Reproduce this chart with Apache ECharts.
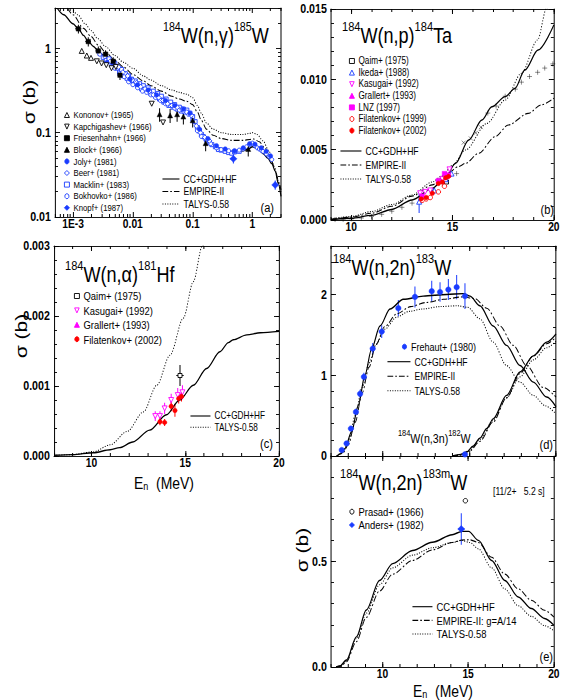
<!DOCTYPE html>
<html>
<head>
<meta charset="utf-8">
<script src="https://cdn.jsdelivr.net/npm/echarts@6/dist/echarts.min.js"></script>
<style>
  html, body { margin: 0; background: #fff; }
  #wrap { width: 562px; height: 700px; overflow: hidden; }
  /* the figure's lettering is narrow: draw on a wider canvas and squeeze it */
  #chart { width: 685px; height: 700px; transform: scaleX(0.82044); transform-origin: 0 0; }
</style>
</head>
<body>
<div id="wrap"><div id="chart"></div></div>
<script>
var F = '"Liberation Sans", Arial, sans-serif';
var BLUE = '#1a3cff', MAG = '#ff00ff', RED = '#ff0000';
var S = 562 / 685;
var X = function (px) { return px / S; };   // page pixels -> chart pixels (horizontal)

// ---------- (a) 184W(n,g)185W   [E (MeV), sigma (b)] ----------
var ngCC = [[5.5e-4,2.95],[7e-4,2.5],[1e-3,1.95],[1.23e-3,1.7],[1.5e-3,1.42],[1.8e-3,1.21],[2.2e-3,1.05],[2.65e-3,0.925],
  [3.2e-3,0.82],[3.66e-3,0.76],[4.5e-3,0.65],[5.7e-3,0.555],[7e-3,0.48],[9e-3,0.424],[0.012,0.37],[0.015,0.339],[0.02,0.30],
  [0.025,0.271],[0.032,0.24],[0.042,0.212],[0.055,0.19],[0.066,0.181],[0.078,0.176],[0.088,0.172],[0.095,0.165],[0.103,0.146],
  [0.115,0.12],[0.133,0.1],[0.15,0.088],[0.172,0.080],[0.21,0.072],[0.252,0.067],[0.32,0.062],[0.42,0.060],[0.55,0.0598],
  [0.7,0.061],[0.85,0.064],[1.0,0.068],[1.15,0.066],[1.3,0.062],[1.52,0.056],[1.8,0.05],[2.1,0.043],[2.4,0.035],[2.7,0.025],[3.0,0.0175]];
var ngEmpire = [[8e-4,3.0],[1e-3,2.5],[1.5e-3,1.72],[2e-3,1.38],[2.65e-3,1.09],[3.5e-3,0.9],[5e-3,0.72],[7e-3,0.6],[0.01,0.49],
  [0.015,0.41],[0.02,0.36],[0.03,0.31],[0.045,0.27],[0.06,0.25],[0.08,0.235],[0.1,0.215],[0.12,0.175],[0.14,0.14],[0.17,0.11],
  [0.22,0.093],[0.3,0.085],[0.45,0.081],[0.7,0.081],[0.9,0.083],[1.05,0.084],[1.3,0.078],[1.6,0.066],[2.0,0.05],[2.4,0.036],[2.8,0.025],[3.0,0.021]];
var ngTalys = [[9.5e-4,3.0],[1.2e-3,2.5],[1.6e-3,1.95],[2e-3,1.62],[2.6e-3,1.3],[3.5e-3,1.05],[5e-3,0.82],[7e-3,0.68],[0.01,0.58],
  [0.015,0.47],[0.02,0.42],[0.03,0.36],[0.045,0.32],[0.06,0.30],[0.08,0.285],[0.1,0.26],[0.12,0.21],[0.14,0.17],[0.17,0.13],
  [0.22,0.11],[0.3,0.1],[0.45,0.095],[0.7,0.095],[0.9,0.098],[1.0,0.1],[1.2,0.095],[1.5,0.08],[1.9,0.06],[2.3,0.04],[2.7,0.027],[3.0,0.02]];
var ngKononov = [[1.4e-3,0.93],[1.7e-3,0.82],[2.0e-3,0.77]];
var ngKapchigashev = [[2.5e-3,0.70],[3.0e-3,0.66],[3.6e-3,0.63],[4.4e-3,0.58],[5.2e-3,0.6],[0.0207,0.22],[0.032,0.132]];
// [E, sigma, dSigma, dE]
var ngFriesenhahn = [[1.23e-3,1.7,0.2,1.5e-4],[1.8e-3,1.2,0.15,2e-4],[2.65e-3,0.93,0.12,3e-4],[3.5e-3,0.85,0.1,4e-4],[4.7e-3,0.70,0.08,5e-4],[6.1e-3,0.48,0.06,6e-4]];
var ngBlock = [[0.028,0.165,0.03,0],[0.042,0.16,0.03,0],[0.055,0.165,0.03,0],[0.07,0.155,0.03,0],[0.1,0.14,0.025,0],[0.165,0.075,0.015,0],[0.85,0.064,0.012,0]];
var ngJoly = [[0.0037,0.68],[0.0047,0.65],[0.009,0.43],[0.012,0.37],[0.018,0.32],[0.025,0.28],[0.035,0.24],[0.05,0.21],[0.07,0.19],
  [0.09,0.17],[0.13,0.11],[0.18,0.085],[0.25,0.07],[0.35,0.064],[0.5,0.061],[0.7,0.066],[0.9,0.074],[1.1,0.073],[1.4,0.066],[1.7,0.06],[2.0,0.053]];
var ngBeer = [[0.0058,0.6],[0.0068,0.52],[0.0082,0.47],[0.0098,0.42],[0.0115,0.39],[0.0135,0.35],[0.016,0.33],[0.019,0.31],
  [0.022,0.28],[0.027,0.26],[0.032,0.24],[0.038,0.22],[0.045,0.21],[0.055,0.20],[0.067,0.19],[0.08,0.175],[0.095,0.16],
  [0.115,0.12],[0.135,0.10],[0.16,0.088],[0.19,0.08]];
var ngMacklin = [[0.0032,0.78],[0.0036,0.72],[0.004,0.75],[0.0045,0.62],[0.005,0.66],[0.0055,0.58],[0.006,0.52],[0.0065,0.56],
  [0.007,0.47],[0.0075,0.50],[0.008,0.44],[0.0085,0.47],[0.009,0.41],[0.0095,0.43],[0.0105,0.38],[0.011,0.41],[0.012,0.36],
  [0.013,0.38],[0.014,0.33],[0.015,0.36],[0.016,0.32],[0.018,0.34],[0.02,0.29],[0.022,0.31],[0.024,0.27],[0.026,0.29],
  [0.028,0.25],[0.03,0.27],[0.033,0.23],[0.036,0.25],[0.04,0.21],[0.043,0.23],[0.047,0.20],[0.05,0.215],[0.055,0.19],
  [0.06,0.20],[0.065,0.18],[0.07,0.19],[0.075,0.175],[0.08,0.185],[0.09,0.17],[0.1,0.155],[0.11,0.135],[0.12,0.115],
  [0.13,0.105],[0.14,0.095],[0.15,0.09],[0.17,0.082],[0.19,0.076],[0.21,0.072],[0.24,0.068],[0.27,0.063],[0.3,0.062],
  [0.35,0.060],[0.4,0.058],[0.45,0.057],[0.5,0.059],[0.6,0.060]];
var ngBokhovko = [[0.0028,0.85],[0.0034,0.80],[0.0042,0.70],[0.005,0.58],[0.006,0.50],[0.0072,0.46],[0.0085,0.40],[0.01,0.37],
  [0.012,0.34],[0.0145,0.31],[0.017,0.30],[0.02,0.28],[0.024,0.26],[0.029,0.24],[0.035,0.22],[0.042,0.21],[0.05,0.195],
  [0.06,0.185],[0.07,0.18],[0.085,0.165],[0.1,0.14],[0.12,0.105],[0.14,0.09],[0.16,0.085],[0.2,0.074],[0.25,0.066],[0.3,0.063],
  [0.4,0.061],[0.5,0.06],[0.6,0.062],[0.7,0.064],[0.8,0.068],[0.9,0.072],[1.0,0.075],[1.1,0.07],[1.2,0.066],[1.3,0.064],
  [1.4,0.062],[1.5,0.06],[1.7,0.056],[1.9,0.052],[2.1,0.048]];
var ngKnopf = [[0.48,0.049,0.006,0.06],[2.4,0.024,0.003,0.15]];

// ---------- (b) 184W(n,p)184Ta ----------
var npCC = [[9,0.00003],[10,0.00012],[11,0.00033],[12,0.00075],[13,0.00142],[14,0.00225],[14.66,0.00308],[15.15,0.00403],
  [15.8,0.00569],[16.45,0.00711],[16.94,0.00805],[17.6,0.00877],[18.08,0.00936],[18.57,0.01066],[19.22,0.01208],[20,0.01386]];
var npEmpire = [[9,0.00006],[10,0.0002],[11,0.00048],[12,0.00098],[13,0.0017],[14,0.0025],[14.66,0.0032],[15.3,0.0038],
  [15.64,0.00403],[16.29,0.00474],[17.1,0.00592],[17.75,0.00675],[18.73,0.00758],[19.38,0.00818],[20,0.00865]];
var npTalys = [[9,0.00008],[10,0.00025],[11,0.0006],[12,0.0011],[13,0.00178],[14,0.0027],[14.5,0.00315],[15,0.0039],
  [15.64,0.00498],[16.7,0.00687],[17.6,0.00853],[18.4,0.01043],[19.2,0.0128],[19.63,0.015],[20,0.0165]];
var npPlus = [[9.2,0.00003],[9.6,0.00005],[10,0.00008],[10.5,0.00014],[11,0.00025],[11.5,0.0004],[12,0.00062],[12.5,0.0009],
  [13,0.0012],[13.5,0.0016],[14,0.0021],[14.5,0.0026],[15.2,0.0033],[16.74,0.0076],[17.15,0.0081],[17.6,0.0088],[18.1,0.0093],
  [18.4,0.0098],[18.8,0.0102],[19.2,0.0105],[19.55,0.0108],[19.95,0.0111]];
var npCross = [[15.55,0.0055],[15.9,0.0058],[16.15,0.0062],[16.4,0.0066]];
var npQaim = [[14.7,0.0027]];
var npIkeda = [[13.35,0.0013,0.0008],[14.1,0.0021,0.0002],[14.66,0.0029,0.0002],[14.95,0.0033,0.0002]];
var npKasugai = [[13.4,0.0019],[13.65,0.0020],[13.9,0.0021],[14.3,0.0027],[14.5,0.0029],[14.85,0.0036]];
var npGrallert = [[14.7,0.0031]];
var npLNZ = [[13.5,0.0017],[14.3,0.0028],[14.6,0.0033],[14.8,0.0032]];
var npFilat99 = [[13.5,0.0014],[13.7,0.0015],[13.9,0.0016],[14.3,0.0020],[14.6,0.0024]];
var npFilat02 = [[13.45,0.0015],[13.7,0.0016],[14.0,0.0019],[14.3,0.0026],[14.5,0.0027],[14.66,0.0030],[14.8,0.0031]];

// ---------- (c) 184W(n,a)181Hf ----------
var naCC = [[8,0.00001],[9,0.00002],[10.1,0.000047],[11,0.00009],[11.5,0.00012],[12.2,0.0002],[13.1,0.00037],[14,0.00059],
  [14.7,0.0008],[15.43,0.00101],[16.14,0.00125],[16.85,0.00149],[17.3,0.00162],[17.56,0.00166],[18.28,0.00173],[19,0.00176],[20,0.00178]];
var naTalys = [[8,0.00001],[9,0.00002],[10.1,0.00006],[11,0.00016],[11.9,0.00035],[12.77,0.00063],[13.48,0.00101],
  [14.19,0.00144],[14.9,0.00197],[15.43,0.00249],[15.91,0.003],[16.3,0.0034]];
var naQaim = [[14.72,0.00115,0.00015,0.2]];
var naKasugai = [[13.4,0.00057,0.00007],[13.65,0.00057,0.00007],[13.9,0.00068,0.00008],[14.25,0.0008,0.00009],[14.6,0.00087,0.0001],[14.85,0.00091,0.0001]];
var naGrallert = [[14.75,0.00086,0.0001]];
var naFilat02 = [[13.65,0.00049,0.00005],[13.9,0.00048,0.00005],[14.25,0.00071,0.00007],[14.45,0.00065,0.00009],[14.65,0.00082,0.00007],[14.8,0.00085,0.00007]];

// ---------- (d) 184W(n,2n)183W and (n,3n) ----------
var n2nCC = [[7.33,0],[7.6,0.03],[7.81,0.095],[8.19,0.30],[8.58,0.63],[8.96,1.0],[9.35,1.33],[9.83,1.61],[10.41,1.82],[11.18,1.94],
  [12.33,1.98],[13.68,2.0],[14.64,2.01],[15.03,1.98],[15.6,1.86],[16.37,1.61],[17.14,1.37],[17.92,1.12],[18.69,0.915],[19.46,0.73],[20,0.61]];
var n2nEmpire = [[7.33,0],[7.7,0.04],[8.0,0.14],[8.4,0.42],[8.8,0.78],[9.2,1.1],[9.6,1.38],[10.1,1.6],[10.8,1.76],[11.6,1.85],
  [12.5,1.9],[13.5,1.94],[14.6,1.97],[15.3,1.95],[16.0,1.83],[16.76,1.61],[17.53,1.37],[18.3,1.12],[19.25,0.85],[20,0.73]];
var n2nTalys = [[7.33,0],[7.7,0.05],[8.0,0.17],[8.4,0.5],[8.8,0.85],[9.2,1.15],[9.6,1.38],[10.1,1.57],[10.8,1.72],[11.5,1.79],
  [12.3,1.82],[13.3,1.85],[14.3,1.86],[14.9,1.84],[15.6,1.70],[16.37,1.41],[17.14,1.12],[17.92,0.915],[18.69,0.75],[19.4,0.62],[20,0.52]];
var n3nCC = [[14.0,0],[14.5,0.02],[14.84,0.05],[15.2,0.12],[15.6,0.22],[16.0,0.34],[16.37,0.46],[17.14,0.75],[17.92,1.04],[18.69,1.24],[19.46,1.41],[20,1.51]];
var n3nEmpire = [[14.0,0],[14.5,0.01],[15.0,0.06],[15.6,0.18],[16.37,0.42],[17.14,0.72],[17.92,1.02],[18.69,1.24],[19.46,1.39],[20,1.47]];
var n3nTalys = [[14.0,0],[14.5,0.015],[15.0,0.07],[15.6,0.2],[16.37,0.44],[17.14,0.72],[17.92,0.98],[18.69,1.19],[19.46,1.34],[20,1.42]];
var n2nFrehaut = [[7.62,0.074,0.02],[7.9,0.155,0.03],[8.15,0.34,0.03],[8.44,0.545,0.04],[8.68,0.77,0.05],[8.9,0.98,0.05],
  [9.41,1.33,0.07],[9.93,1.54,0.08],[10.89,1.83,0.1],[11.85,1.97,0.13],[12.82,2.04,0.13],[13.3,2.03,0.12],[13.78,2.06,0.13],
  [14.26,2.09,0.15],[14.74,1.98,0.16],[14.74,0.02,0.01]];

// ---------- (e) 184W(n,2n)183mW ----------
var n2nmCC = [[7.3,0],[7.52,0.005],[7.9,0.033],[8.48,0.143],[9.06,0.27],[9.83,0.41],[10.6,0.49],[11.76,0.552],[12.91,0.591],
  [14.07,0.627],[14.64,0.643],[15.03,0.643],[15.6,0.60],[16.37,0.505],[17.14,0.41],[17.92,0.332],[18.69,0.277],[19.46,0.23],[20,0.198]];
var n2nmEmpire = [[7.3,0],[7.6,0.004],[7.9,0.025],[8.48,0.12],[9.06,0.235],[9.83,0.36],[10.6,0.44],[11.76,0.505],[12.91,0.555],
  [14.07,0.59],[14.64,0.602],[15.1,0.603],[15.6,0.59],[16.37,0.52],[17.14,0.44],[17.92,0.37],[18.69,0.316],[19.46,0.269],[20,0.237]];
var n2nmTalys = [[7.3,0],[7.6,0.005],[7.9,0.03],[8.48,0.135],[9.06,0.255],[9.83,0.39],[10.6,0.47],[11.76,0.53],[12.91,0.565],
  [14.07,0.59],[14.64,0.60],[15.1,0.59],[15.6,0.56],[16.37,0.47],[17.14,0.37],[17.92,0.29],[18.69,0.24],[19.46,0.196],[20,0.172]];
var n2nmPrasad = [[14.84,0.788]];
var n2nmAnders = [[14.6,0.654,0.075,0.2]];

// ---------- tick labels ----------
var aXTicks = [0.001, 0.01, 0.1, 1], aXText = ['1E-3', '0.01', '0.1', '1'];
var aYTicks = [0.01, 0.1, 1], aYText = ['0.01', '0.1', '1'];
var enTicks = [10, 15, 20];
var bYTicks = [0, 0.005, 0.010, 0.015];
var cYTicks = [0, 0.001, 0.002, 0.003];
var dYTicks = [0, 1, 2];
var eYTicks = [0, 0.5];

function steps(a, b, s) { var r = []; for (var v = a; v <= b + 1e-9; v += s) r.push(+v.toFixed(6)); return r; }
function logMinors(lo, hi) {
  var r = [];
  for (var n = -4; n <= 1; n++) for (var k = 2; k <= 9; k++) {
    var v = Math.log10(k * Math.pow(10, n));
    if (v >= lo && v <= hi) r.push(v);
  }
  return r;
}
var L = function (arr) { return arr.map(Math.log10); };

var grid = [
  { left: X(55), top: 8, width: X(226), height: 209 },   // a
  { left: X(331), top: 9, width: X(225), height: 211 },  // b
  { left: X(54), top: 246, width: X(225), height: 210 }, // c
  { left: X(331), top: 246, width: X(225), height: 210 },// d
  { left: X(331), top: 456, width: X(225), height: 211 } // e
];

var xAxis = [], yAxis = [], XI = [], YI = [];
function frame(list, idx, g, pos, min, max, majors, minors, labels, fmt) {
  var other = { bottom: 'top', top: 'bottom', left: 'right', right: 'left' }[pos];
  var vert = pos === 'left';            // y axes are vertical lines, x-axis ticks are vertical strokes
  var base = { gridIndex: g, type: 'value', min: min, max: max, splitLine: { show: false } };
  idx.push(list.length);
  [pos, other].forEach(function (p, k) {
    list.push(Object.assign({}, base, {
      position: p,
      axisLine: { show: true, onZero: false, lineStyle: { color: '#000', width: vert ? 1 / S : 1 } },
      axisTick: { show: true, inside: true, length: vert ? X(5) : 5, customValues: majors, lineStyle: { color: '#000', width: vert ? 1 : 1 / S } },
      axisLabel: (k === 0 && labels) ? { show: true, customValues: labels, formatter: fmt, color: '#000',
        fontFamily: F, fontWeight: 'bold', fontSize: vert ? 13 : 12.5, margin: vert ? 5 : 0 } : { show: false }
    }));
    list.push(Object.assign({}, base, {
      position: p,
      axisLine: { show: false, onZero: false },
      axisTick: { show: true, inside: true, length: vert ? X(3) : 3, customValues: minors, lineStyle: { color: '#000', width: vert ? 1 : 1 / S } },
      axisLabel: { show: false }
    }));
  });
}
function pick(vals, texts) {
  return function (v) {
    for (var i = 0; i < vals.length; i++) if (Math.abs(vals[i] - v) < 1e-6) return texts[i];
    return '';
  };
}
var fix = function (d) { return function (v) { return v.toFixed(d); }; };

// (a) log-log, drawn on log10 values
var axMin = Math.log10(5e-4), axMax = Math.log10(3), ayMin = -2, ayMax = Math.log10(3);
frame(xAxis, XI, 0, 'bottom', axMin, axMax, L(aXTicks), logMinors(axMin, axMax), L(aXTicks), pick(L(aXTicks), aXText));
frame(yAxis, YI, 0, 'left', ayMin, ayMax, L(aYTicks), logMinors(ayMin, ayMax), L(aYTicks), pick(L(aYTicks), aYText));
// (b)
frame(xAxis, XI, 1, 'bottom', 9, 20, enTicks, steps(9, 20, 1), enTicks, String);
frame(yAxis, YI, 1, 'left', 0, 0.015, bYTicks, steps(0, 0.015, 0.001), bYTicks, fix(3));
// (c)
frame(xAxis, XI, 2, 'bottom', 8, 20, enTicks, steps(8, 20, 1), enTicks, String);
frame(yAxis, YI, 2, 'left', 0, 0.003, cYTicks, steps(0, 0.003, 0.0002), cYTicks, fix(3));
// (d)
frame(xAxis, XI, 3, 'bottom', 7, 20, enTicks, steps(7, 20, 1), null, null);
frame(yAxis, YI, 3, 'left', 0, 2.6, dYTicks, steps(0, 2.6, 0.2), dYTicks, String);
// (e)
frame(xAxis, XI, 4, 'bottom', 7, 20, enTicks, steps(7, 20, 1), enTicks, String);
frame(yAxis, YI, 4, 'left', 0, 1, [0, 0.5, 1], steps(0, 1, 0.1), eYTicks, fix(1));

function tr(p, log) { return log ? [Math.log10(p[0]), Math.log10(p[1])] : [p[0], p[1]]; }
function curve(g, name, arr, dash, log) {
  return { type: 'line', name: name, xAxisIndex: XI[g], yAxisIndex: YI[g], symbol: 'none', silent: true,
    smooth: 0.3, smoothMonotone: 'x', z: 4,
    lineStyle: { color: '#000', width: dash === 'solid' ? 1.4 : 1.1, type: dash },
    data: arr.map(function (p) { return tr(p, log); }) };
}
// open symbols: white fill with coloured border; width widened so marks stay round after the squeeze
function dots(g, name, arr, sym, color, size, open, log) {
  return { type: 'scatter', name: name, xAxisIndex: XI[g], yAxisIndex: YI[g], symbol: sym, symbolSize: [X(size), size],
    silent: true, z: 5,
    itemStyle: open ? { color: '#fff', borderColor: color, borderWidth: 1, opacity: 1 }
                    : { color: color, borderColor: color, borderWidth: 0.5, opacity: 1 },
    data: arr.map(function (p) { return tr(p, log); }) };
}
function errs(g, arr, color, log) {
  return { type: 'custom', xAxisIndex: XI[g], yAxisIndex: YI[g], silent: true, z: 3,
    data: arr.map(function (p) {
      var dE = p[3] || 0, r = [p[0], p[1], p[1] - p[2], p[1] + p[2], p[0] - dE, p[0] + dE];
      return log ? r.map(Math.log10) : r;
    }),
    renderItem: function (params, api) {
      var a = api.coord([api.value(0), api.value(2)]), b = api.coord([api.value(0), api.value(3)]);
      var ch = [{ type: 'line', shape: { x1: a[0], y1: a[1], x2: b[0], y2: b[1] }, style: { stroke: color, lineWidth: 1 / S } }];
      if (api.value(5) > api.value(4)) {
        var c = api.coord([api.value(4), api.value(1)]), d = api.coord([api.value(5), api.value(1)]);
        ch.push({ type: 'line', shape: { x1: c[0], y1: c[1], x2: d[0], y2: d[1] }, style: { stroke: color, lineWidth: 1 } });
      }
      return { type: 'group', children: ch };
    } };
}

var CC = 'CC+GDH+HF', EM = 'EMPIRE-II', TA = 'TALYS-0.58';
var DASHDOT = [7, 2.5, 2, 2.5], DOT = [1.2, 1.8];
var PLUS = 'path://M5,0L5,10M0,5L10,5';
var CROSS = 'path://M0,0L10,10M0,10L10,0';
var DOWN = 'path://M0,0L10,0L5,9Z';

var series = [
  // (a)
  errs(0, ngFriesenhahn, '#000', true), errs(0, ngBlock, '#000', true), errs(0, ngKnopf, BLUE, true),
  dots(0, 'Macklin+ (1983)', ngMacklin, 'rect', BLUE, 4, true, true),
  dots(0, 'Bokhovko+ (1986)', ngBokhovko, 'circle', BLUE, 4, true, true),
  dots(0, 'Beer+ (1981)', ngBeer, 'diamond', BLUE, 5, true, true),
  dots(0, 'Joly+ (1981)', ngJoly, 'circle', BLUE, 4.5, false, true),
  dots(0, 'Knopf+ (1987)', ngKnopf, 'diamond', BLUE, 7, false, true),
  dots(0, 'Kononov+ (1965)', ngKononov, 'triangle', '#000', 5, true, true),
  dots(0, 'Kapchigashev+ (1966)', ngKapchigashev, DOWN, '#000', 5, true, true),
  dots(0, 'Friesenhahn+ (1966)', ngFriesenhahn, 'rect', '#000', 4.5, false, true),
  dots(0, 'Block+ (1966)', ngBlock, 'triangle', '#000', 5, false, true),
  curve(0, CC, ngCC, 'solid', true), curve(0, EM, ngEmpire, DASHDOT, true), curve(0, TA, ngTalys, DOT, true),
  // (b)
  curve(1, CC, npCC, 'solid'), curve(1, EM, npEmpire, DASHDOT), curve(1, TA, npTalys, DOT),
  dots(1, 'plus', npPlus, PLUS, '#000', 5, false), dots(1, 'cross', npCross, CROSS, '#000', 4, false),
  errs(1, npIkeda, BLUE),
  dots(1, 'Qaim+ (1975)', npQaim, 'rect', '#000', 4, true),
  dots(1, 'Ikeda+ (1988)', npIkeda, 'triangle', BLUE, 5, true),
  dots(1, 'Kasugai+ (1992)', npKasugai, DOWN, MAG, 5, true),
  dots(1, 'Grallert+ (1993)', npGrallert, 'triangle', MAG, 5, false),
  dots(1, 'LNZ (1997)', npLNZ, 'rect', MAG, 4.5, false),
  dots(1, 'Filatenkov+ (1999)', npFilat99, 'circle', RED, 4.5, true),
  dots(1, 'Filatenkov+ (2002)', npFilat02, 'circle', RED, 4.5, false),
  // (c)
  curve(2, CC, naCC, 'solid'), curve(2, TA, naTalys, DOT),
  errs(2, naQaim, '#000'), errs(2, naKasugai, MAG), errs(2, naFilat02, RED),
  dots(2, 'Qaim+ (1975)', naQaim, 'rect', '#000', 4, true),
  dots(2, 'Kasugai+ (1992)', naKasugai, DOWN, MAG, 5, true),
  dots(2, 'Grallert+ (1993)', naGrallert, 'triangle', MAG, 5, false),
  dots(2, 'Filatenkov+ (2002)', naFilat02, 'circle', RED, 4.5, false),
  // (d)
  curve(3, CC, n2nCC, 'solid'), curve(3, EM, n2nEmpire, DASHDOT), curve(3, TA, n2nTalys, DOT),
  curve(3, CC, n3nCC, 'solid'), curve(3, EM, n3nEmpire, DASHDOT), curve(3, TA, n3nTalys, DOT),
  errs(3, n2nFrehaut, BLUE),
  dots(3, 'Frehaut+ (1980)', n2nFrehaut, 'circle', BLUE, 5.5, false),
  // (e)
  curve(4, CC, n2nmCC, 'solid'), curve(4, 'EMPIRE-II: g=A/14', n2nmEmpire, DASHDOT), curve(4, TA, n2nmTalys, DOT),
  errs(4, n2nmAnders, BLUE),
  dots(4, 'Prasad+ (1966)', n2nmPrasad, 'circle', '#000', 4.5, true),
  dots(4, 'Anders+ (1982)', n2nmAnders, 'diamond', BLUE, 7, false)
];

// left / itemWidth given in page pixels
function legend(left, top, names, iw, ih, fs, lh, gap, isLine) {
  return { left: X(left), top: top, orient: 'vertical', selectedMode: false, padding: 0,
    itemWidth: X(iw), itemHeight: ih, itemGap: gap, data: names,
    itemStyle: isLine ? { opacity: 0 } : { borderWidth: 1 },
    lineStyle: { width: 1.1 },
    textStyle: { fontFamily: F, fontSize: fs, lineHeight: lh, color: '#000' } };
}
var legends = [
  legend(64, 109.5, ['Kononov+ (1965)', 'Kapchigashev+ (1966)', 'Friesenhahn+ (1966)', 'Block+ (1966)', 'Joly+ (1981)',
    'Beer+ (1981)', 'Macklin+ (1983)', 'Bokhovko+ (1986)', 'Knopf+ (1987)'], 5, 5, 9.5, 11, 0.6),
  legend(162, 173, [CC, EM, TA], 17, 8, 10.5, 12, 0.5, true),
  legend(349, 55.5, ['Qaim+ (1975)', 'Ikeda+ (1988)', 'Kasugai+ (1992)', 'Grallert+ (1993)', 'LNZ (1997)',
    'Filatenkov+ (1999)', 'Filatenkov+ (2002)'], 5, 5, 10, 11, 0.6),
  legend(340, 145, [CC, EM, TA], 21, 8, 10.5, 12, 2, true),
  legend(74, 289.5, ['Qaim+ (1975)', 'Kasugai+ (1992)', 'Grallert+ (1993)', 'Filatenkov+ (2002)'], 5, 5, 11.5, 13, 1.4),
  legend(190, 410.5, [CC, TA], 20, 8, 10, 11, 0.3, true),
  legend(402, 340.7, ['Frehaut+ (1980)'], 5, 5, 11, 12, 2),
  legend(387, 355.7, [CC, EM, TA], 23, 8, 10.5, 12, 2.5, true),
  legend(349, 505.7, ['Prasad+ (1966)', 'Anders+ (1982)'], 5, 5, 11.5, 12, 1.3),
  legend(412, 600.7, [CC, 'EMPIRE-II: g=A/14', TA], 20, 8, 11.5, 12, 1.65, true)
];

var supRich = function (big, small) {
  return {
    b: { fontFamily: F, fontSize: big, lineHeight: big + 4, verticalAlign: 'bottom' },
    s: { fontFamily: F, fontSize: small, lineHeight: small + 2, verticalAlign: 'top' }
  };
};
function rt(x, y, text, big, small) {
  return { type: 'text', x: X(x), y: y, silent: true,
    style: { text: text, rich: supRich(big, small), fill: '#000', align: 'left', verticalAlign: 'middle' } };
}
function pt(x, y, text, size, align, rot) {
  return { type: 'text', x: X(x), y: y, rotation: rot || 0, silent: true,
    style: { text: text, fontFamily: F, fontSize: size, fill: '#000', align: align || 'left', verticalAlign: 'middle' } };
}
function enLabel(x, y) {
  return { type: 'text', x: X(x), y: y, silent: true,
    style: { text: '{b|E}{u|n}{b|  (MeV)}', align: 'center', verticalAlign: 'middle', fill: '#000',
      rich: { b: { fontFamily: F, fontSize: 17, lineHeight: 15, verticalAlign: 'bottom' },
              u: { fontFamily: F, fontSize: 11, lineHeight: 7, verticalAlign: 'bottom' } } } };
}

var graphic = [
  rt(163, 33, '{s|184}{b|W(n,γ)}{s|185}{b|W}', 22, 13),
  rt(342, 33, '{s|184}{b|W(n,p)}{s|184}{b|Ta}', 22, 13.5),
  rt(65, 272, '{s|184}{b|W(n,α)}{s|181}{b|Hf}', 22, 13.5),
  rt(333, 265, '{s|184}{b|W(n,2n)}{s|183}{b|W}', 22, 13.5),
  rt(340, 480, '{s|184}{b|W(n,2n)}{s|183m}{b|W}', 22, 13.5),
  rt(398, 437, '{s|184}{b|W(n,3n)}{s|182}{b|W}', 13, 9),
  pt(493, 491, '[11/2+   5.2 s]', 10.5),
  pt(274, 208, '(a)', 13.5, 'right'), pt(554, 210, '(b)', 13.5, 'right'), pt(273, 444, '(c)', 13.5, 'right'),
  pt(553, 445, '(d)', 13.5, 'right'), pt(553, 657, '(e)', 13.5, 'right'),
  pt(29, 102, 'σ (b)', 21, 'center', Math.PI / 2),
  pt(21, 336, 'σ (b)', 21, 'center', Math.PI / 2),
  pt(302, 550, 'σ (b)', 21, 'center', Math.PI / 2),
  enLabel(164, 484),
  enLabel(443, 692)
];

var chart = echarts.init(document.getElementById('chart'), null, { renderer: 'svg' });
chart.setOption({
  animation: false,
  backgroundColor: '#fff',
  grid: grid,
  xAxis: xAxis,
  yAxis: yAxis,
  legend: legends,
  series: series,
  graphic: graphic
});
</script>
</body>
</html>
